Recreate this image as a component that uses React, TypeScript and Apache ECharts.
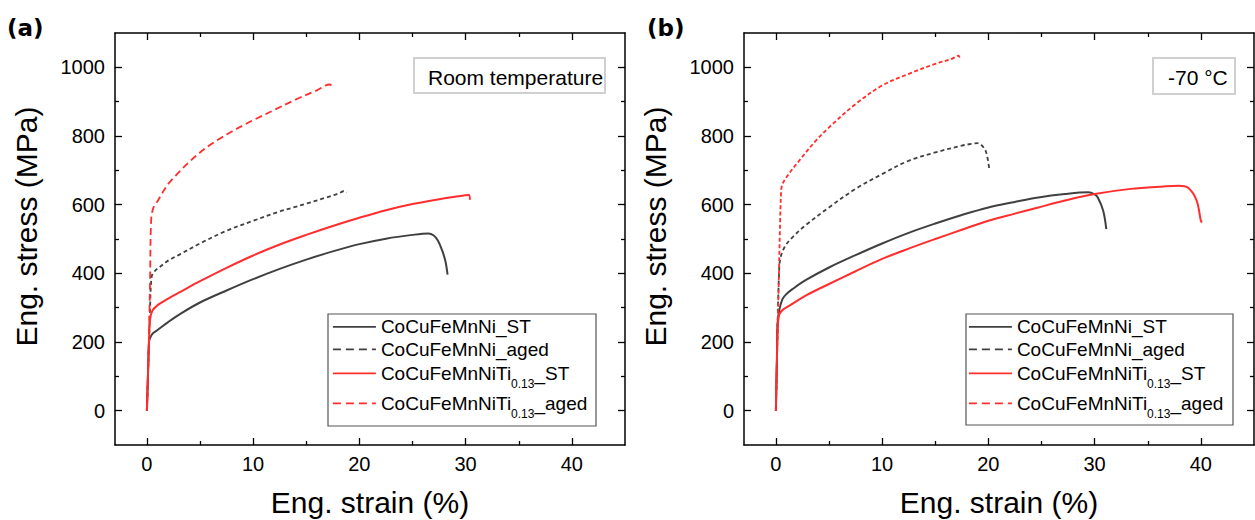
import React, { useEffect, useRef } from 'react';
import * as echarts from 'echarts';

const FONT = "'Liberation Sans', Arial, Helvetica, sans-serif";

// axis ranges and ticks
const X_MIN = -3;
const X_MAX = 45;
const Y_MIN = -100;
const Y_MAX = 1100;
const X_MAJOR = [0, 10, 20, 30, 40];
const X_MINOR = [5, 15, 25, 35];
const Y_MAJOR = [0, 200, 400, 600, 800, 1000];
const Y_MINOR = [100, 300, 500, 700, 900];

// series names & colours
const NAMES = ['CoCuFeMnNi_ST', 'CoCuFeMnNi_aged', 'CoCuFeMnNiTi0.13_ST', 'CoCuFeMnNiTi0.13_aged'];
const GRAY = '#404040';
const RED = '#ff2d2d';

// (a) Room temperature: [strain %, stress MPa]
const RT_ST = [[0, 0], [0.08, 80], [0.15, 160], [0.2, 200], [0.35, 215], [0.6, 226], [1.0, 235], [2.0, 258], [3.15, 282], [5.0, 315], [7.5, 350], [10, 383], [12.5, 413], [15, 440], [17.5, 464], [20, 485], [22.5, 501], [25, 512], [26.5, 516], [27.0, 510], [27.4, 495], [27.8, 466], [28.1, 435], [28.3, 396]];
const RT_AGED = [[0, 0], [0.15, 150], [0.3, 300], [0.45, 390], [0.7, 405], [1.27, 420], [2, 437], [3.15, 456], [5, 487], [7.5, 524], [10, 553], [12.5, 580], [13.8, 592], [15, 603], [16.9, 621], [18, 632], [18.6, 640], [18.8, 636]];
const RT_TI_ST = [[0, 0], [0.1, 100], [0.2, 200], [0.3, 265], [0.5, 290], [0.96, 306], [2.2, 330], [3.5, 352], [5, 377], [7.5, 416], [10, 452], [12.5, 484], [15, 512], [17.5, 538], [20, 562], [22.5, 584], [25, 602], [27.5, 616], [29, 623], [30.3, 628], [30.4, 614]];
const RT_TI_AGED = [[0, 0], [0.15, 150], [0.3, 380], [0.4, 553], [0.6, 590], [1, 610], [2, 660], [3, 694], [4, 725], [5, 752], [6, 775], [7, 795], [8, 813], [9, 830], [10, 846], [12, 876], [14, 906], [16, 933], [17.2, 950], [17.55, 942]];

// (b) -70 °C
const LT_ST = [[0, 0], [0.1, 150], [0.15, 250], [0.3, 290], [0.62, 325], [1, 340], [1.56, 354], [2.8, 380], [5, 417], [7.5, 453], [10, 487], [12.5, 518], [15, 545], [17.5, 570], [20, 592], [22.5, 608], [24.7, 621], [27.2, 631], [29.4, 636], [30, 630], [30.3, 621], [30.8, 583], [31.1, 529]];
const LT_AGED = [[0, 0], [0.1, 150], [0.2, 300], [0.3, 400], [0.4, 440], [0.81, 476], [1.56, 505], [2.8, 540], [5, 592], [7.5, 646], [10, 689], [12.5, 728], [15, 752], [17.5, 772], [18.4, 777], [19, 779], [19.4, 772], [19.8, 752], [20.1, 699]];
const LT_TI_ST = [[0, 0], [0.1, 150], [0.2, 255], [0.34, 282], [0.7, 295], [1.28, 306], [2.8, 335], [5, 369], [7.5, 406], [10, 442], [12.5, 472], [15, 500], [17.5, 527], [20, 553], [22.5, 574], [24.7, 592], [27.2, 612], [30, 631], [33.4, 646], [36.5, 653], [37.9, 655], [38.8, 649], [39.6, 612], [40.0, 553], [40.1, 548]];
const LT_TI_AGED = [[0, 0], [0.1, 150], [0.25, 350], [0.4, 550], [0.5, 640], [0.62, 660], [1.09, 684], [2.19, 728], [3.75, 786], [5, 825], [7.5, 893], [10, 947], [12.5, 981], [15, 1010], [16.5, 1024], [17.2, 1034], [17.3, 1024]];

const X_TITLE = 'Eng. strain (%)';
const Y_TITLE = 'Eng. stress (MPa)';

const tickStyle = { color: '#000', width: 1.3 };
const spineStyle = { color: '#000', width: 1.5 };
const plain = (v: number) => String(v);

function makeX(grid: number) {
  const common = { type: 'value', gridIndex: grid, min: X_MIN, max: X_MAX, splitLine: { show: false } };
  return [
    {
      ...common, position: 'bottom',
      axisLine: { show: true, onZero: false, lineStyle: spineStyle },
      axisTick: { show: true, inside: true, length: 7, customValues: X_MAJOR, lineStyle: tickStyle },
      axisLabel: { show: true, customValues: X_MAJOR, formatter: plain, margin: 9, fontSize: 20, fontFamily: FONT, color: '#000' },
      name: X_TITLE, nameLocation: 'middle', nameGap: 42,
      nameTextStyle: { fontSize: 30, fontFamily: FONT, color: '#000' },
    },
    {
      ...common, position: 'bottom',
      axisLine: { show: false, onZero: false },
      axisTick: { show: true, inside: true, length: 4, customValues: X_MINOR, lineStyle: tickStyle },
      axisLabel: { show: false },
    },
    {
      ...common, position: 'top',
      axisLine: { show: true, onZero: false, lineStyle: spineStyle },
      axisTick: { show: true, inside: true, length: 7, customValues: X_MAJOR, lineStyle: tickStyle },
      axisLabel: { show: false },
    },
    {
      ...common, position: 'top',
      axisLine: { show: false, onZero: false },
      axisTick: { show: true, inside: true, length: 4, customValues: X_MINOR, lineStyle: tickStyle },
      axisLabel: { show: false },
    },
  ];
}

function makeY(grid: number) {
  const common = { type: 'value', gridIndex: grid, min: Y_MIN, max: Y_MAX, splitLine: { show: false } };
  return [
    {
      ...common, position: 'left',
      axisLine: { show: true, onZero: false, lineStyle: spineStyle },
      axisTick: { show: true, inside: true, length: 7, customValues: Y_MAJOR, lineStyle: tickStyle },
      axisLabel: { show: true, customValues: Y_MAJOR, formatter: plain, margin: 10, fontSize: 20, fontFamily: FONT, color: '#000' },
      name: Y_TITLE, nameLocation: 'middle', nameGap: 74,
      nameTextStyle: { fontSize: 30, fontFamily: FONT, color: '#000', padding: [0, 0, 0, 25] },
    },
    {
      ...common, position: 'left',
      axisLine: { show: false, onZero: false },
      axisTick: { show: true, inside: true, length: 4, customValues: Y_MINOR, lineStyle: tickStyle },
      axisLabel: { show: false },
    },
    {
      ...common, position: 'right',
      axisLine: { show: true, onZero: false, lineStyle: spineStyle },
      axisTick: { show: true, inside: true, length: 7, customValues: Y_MAJOR, lineStyle: tickStyle },
      axisLabel: { show: false },
    },
    {
      ...common, position: 'right',
      axisLine: { show: false, onZero: false },
      axisTick: { show: true, inside: true, length: 4, customValues: Y_MINOR, lineStyle: tickStyle },
      axisLabel: { show: false },
    },
  ];
}

function line(name: string, data: number[][], grid: number, color: string, dash: any, width: number) {
  return {
    type: 'line', name, data,
    xAxisIndex: grid * 4, yAxisIndex: grid * 4,
    symbol: 'none', showSymbol: false,
    smooth: 0.35,
    lineStyle: { color, width, type: dash },
    itemStyle: { color },
    silent: true, z: 3,
  };
}

const ROW_Y = [329.3, 351.7, 376.5, 406.5];
const legendFormatter = (name: string) => {
  if (name.indexOf('Ti0.13') >= 0) {
    const tail = name.split('Ti0.13')[1];
    return '{m|CoCuFeMnNiTi}{s|0.13}{m|' + tail + '}';
  }
  return name;
};

function legendRow(idx: number, left: number) {
  const rich = idx >= 2;
  const ih = rich ? 32 : 24;
  const color = idx < 2 ? GRAY : RED;
  const dashed = idx % 2 === 1;
  return {
    show: true,
    left, top: ROW_Y[idx] - ih / 2,
    padding: 0, itemWidth: 43, itemHeight: ih,
    selectedMode: false,
    data: [{
      name: NAMES[idx],
      lineStyle: { color, width: 1.8, type: dashed ? [8, 5] : 'solid' },
      itemStyle: { opacity: 0, color: 'transparent', borderWidth: 0 },
    }],
    formatter: legendFormatter,
    textStyle: {
      fontSize: 19, fontFamily: FONT, color: '#000',
      rich: {
        m: { fontSize: 19, fontFamily: FONT, color: '#000', verticalAlign: 'middle' },
        s: { fontSize: 12, fontFamily: FONT, color: '#000', verticalAlign: 'middle', padding: [22, 0, 0, 0] },
      },
    },
  };
}

export default function App() {
  const ref = useRef<HTMLDivElement>(null);
  useEffect(() => {
    if (!ref.current) return;
    const chart = echarts.init(ref.current, null, { renderer: 'svg' });
    const option: any = {
      animation: false,
      backgroundColor: '#fff',
      grid: [
        { left: 115, top: 33, width: 510, height: 412, containLabel: false, outerBoundsMode: 'none' },
        { left: 744, top: 33, width: 510, height: 412, containLabel: false, outerBoundsMode: 'none' },
      ],
      xAxis: [...makeX(0), ...makeX(1)],
      yAxis: [...makeY(0), ...makeY(1)],
      legend: [
        legendRow(0, 332), legendRow(1, 332), legendRow(2, 332), legendRow(3, 332),
        legendRow(0, 968), legendRow(1, 968), legendRow(2, 968), legendRow(3, 968),
      ],
      series: [
        line(NAMES[0], RT_ST, 0, GRAY, 'solid', 2),
        line(NAMES[1], RT_AGED, 0, GRAY, [4, 3], 1.8),
        line(NAMES[2], RT_TI_ST, 0, RED, 'solid', 2),
        line(NAMES[3], RT_TI_AGED, 0, RED, [7, 4], 1.8),
        line(NAMES[0], LT_ST, 1, GRAY, 'solid', 2),
        line(NAMES[1], LT_AGED, 1, GRAY, [4, 3], 1.8),
        line(NAMES[2], LT_TI_ST, 1, RED, 'solid', 2),
        line(NAMES[3], LT_TI_AGED, 1, RED, [4, 2.5], 1.8),
      ],
      graphic: [
        { type: 'text', x: 7, y: 28, style: { text: '(a)', fontSize: 23, fontWeight: 'bold', fontFamily: "'DejaVu Sans'", fill: '#000', verticalAlign: 'middle' } },
        { type: 'text', x: 647, y: 28, style: { text: '(b)', fontSize: 23, fontWeight: 'bold', fontFamily: "'DejaVu Sans'", fill: '#000', verticalAlign: 'middle' } },
        { type: 'rect', shape: { x: 328, y: 314, width: 268, height: 112 }, style: { fill: 'rgba(0,0,0,0)', stroke: '#555', lineWidth: 1.2 } },
        { type: 'rect', shape: { x: 966, y: 314, width: 267, height: 111 }, style: { fill: 'rgba(0,0,0,0)', stroke: '#555', lineWidth: 1.2 } },
        { type: 'rect', shape: { x: 414, y: 58, width: 191, height: 35 }, style: { fill: '#fff', stroke: '#d0d0d0', lineWidth: 2 } },
        { type: 'text', x: 428, y: 77, style: { text: 'Room temperature', fontSize: 21, fontFamily: FONT, fill: '#000', verticalAlign: 'middle' } },
        { type: 'rect', shape: { x: 1153, y: 58, width: 82, height: 36 }, style: { fill: '#fff', stroke: '#d0d0d0', lineWidth: 2 } },
        { type: 'text', x: 1168, y: 77, style: { text: '-70 °C', fontSize: 21, fontFamily: FONT, fill: '#000', verticalAlign: 'middle' } },
      ],
    };
    chart.setOption(option);
    return () => chart.dispose();
  }, []);
  return <div ref={ref} style={{ position: 'fixed', left: 0, top: 0, width: 1255, height: 520 }} />;
}
